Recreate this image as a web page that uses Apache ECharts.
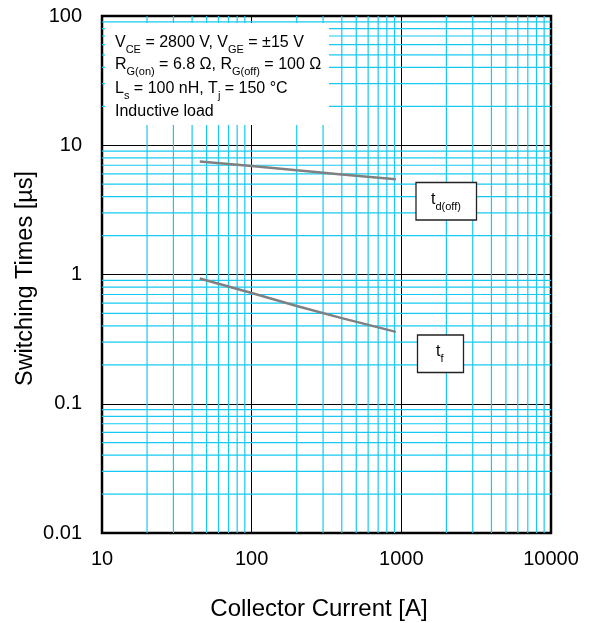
<!DOCTYPE html>
<html><head><meta charset="utf-8">
<script src="https://cdn.jsdelivr.net/npm/echarts@6/dist/echarts.min.js"></script>
<style>html,body{margin:0;padding:0;background:#fff}#c{width:592px;height:623px}</style>
</head><body><div id="c"></div>
<script>
var current = [45, 100, 200, 400, 920];
var tdoff = [7.5, 6.9, 6.4, 5.95, 5.45];
var tf = [0.93, 0.72, 0.57, 0.46, 0.36];
var xMinor = [20,30,40,50,60,70,80,90,200,300,400,500,600,700,800,900,2000,3000,4000,5000,6000,7000,8000,9000];
var yMinor = [0.02,0.03,0.04,0.05,0.06,0.07,0.08,0.09,0.2,0.3,0.4,0.5,0.6,0.7,0.8,0.9,2,3,4,5,6,7,8,9,20,30,40,50,60,70,80,90];
var xRange = [10, 10000];
var yRange = [0.01, 100];
var xName = 'Collector Current [A]';
var yName = 'Switching Times [µs]';

var F = 'Arial, "Liberation Sans", sans-serif';
var chart = echarts.init(document.getElementById('c'));
var rich = {
  n:{fontSize:16, fontFamily:F, color:'#000', lineHeight:20, verticalAlign:'bottom'},
  s:{fontSize:11, fontFamily:F, color:'#000', lineHeight:20, verticalAlign:'bottom', padding:[0,0,-4,0]}
};
var gridSeries = [];
xMinor.forEach(function(v){
  gridSeries.push({type:'line', silent:true, z:1, symbol:'none', data:[[v, yRange[0]],[v, yRange[1]]],
    lineStyle:{color:'#17c9f2', width:1.2}});
});
yMinor.forEach(function(v){
  gridSeries.push({type:'line', silent:true, z:1, symbol:'none', data:[[xRange[0], v],[xRange[1], v]],
    lineStyle:{color:'#17c9f2', width:1.2}});
});
chart.setOption({
  animation:false,
  grid:{left:102, right:41, top:16, bottom:90, show:true, borderColor:'#000', borderWidth:2.5, backgroundColor:'transparent'},
  xAxis:{type:'log', logBase:10, min:xRange[0], max:xRange[1],
    axisLine:{show:false}, axisTick:{show:false},
    axisLabel:{fontSize:20, fontFamily:F, color:'#000', margin:16,
      formatter:function(v){return String(Math.round(v));}},
    splitLine:{show:true, lineStyle:{color:'#000', width:1}}},
  yAxis:{type:'log', logBase:10, min:yRange[0], max:yRange[1],
    axisLine:{show:false}, axisTick:{show:false},
    axisLabel:{fontSize:20, fontFamily:F, color:'#000', margin:20,
      formatter:function(v){return String(+v.toPrecision(3));}},
    splitLine:{show:true, lineStyle:{color:'#000', width:1}}},
  series:gridSeries.concat([
    {type:'line', name:'td(off)', z:5, symbol:'none',
     data:current.map(function(x,i){return [x, tdoff[i]];}),
     lineStyle:{color:'#808080', width:2.5}},
    {type:'line', name:'tf', z:5, symbol:'none',
     data:current.map(function(x,i){return [x, tf[i]];}),
     lineStyle:{color:'#808080', width:2.5}}
  ]),
  graphic:[
    {type:'text', x:319, y:609, style:{text:xName, font:'24px ' + F, fill:'#000', align:'center', verticalAlign:'middle'}},
    {type:'text', x:26, y:278.5, rotation:Math.PI/2, style:{text:yName, font:'23.5px ' + F, fill:'#000', align:'center', verticalAlign:'middle'}},
    {type:'rect', z:50, shape:{x:105, y:23, width:224, height:102}, style:{fill:'#fff'}},
    {type:'text', z:51, left:115, top:35, style:{text:'{n|V}{s|CE}{n| = 2800 V, V}{s|GE}{n| = ±15 V}', rich:rich}},
    {type:'text', z:51, left:115, top:57, style:{text:'{n|R}{s|G(on)}{n| = 6.8 Ω, R}{s|G(off)}{n| = 100 Ω}', rich:rich}},
    {type:'text', z:51, left:115, top:81, style:{text:'{n|L}{s|s}{n| = 100 nH, T}{s|j}{n| = 150 °C}', rich:rich}},
    {type:'text', z:51, left:115, top:104, style:{text:'{n|Inductive load}', rich:rich}},
    {type:'rect', z:50, shape:{x:416, y:182.5, width:60.5, height:37.5}, style:{fill:'#fff', stroke:'#222', lineWidth:1.3}},
    {type:'text', z:51, left:431, top:192, style:{text:'{n|t}{s|d(off)}', rich:rich}},
    {type:'rect', z:50, shape:{x:417.5, y:335, width:46, height:37.5}, style:{fill:'#fff', stroke:'#222', lineWidth:1.3}},
    {type:'text', z:51, left:436, top:344, style:{text:'{n|t}{s|f}', rich:rich}}
  ]
});
</script></body></html>
